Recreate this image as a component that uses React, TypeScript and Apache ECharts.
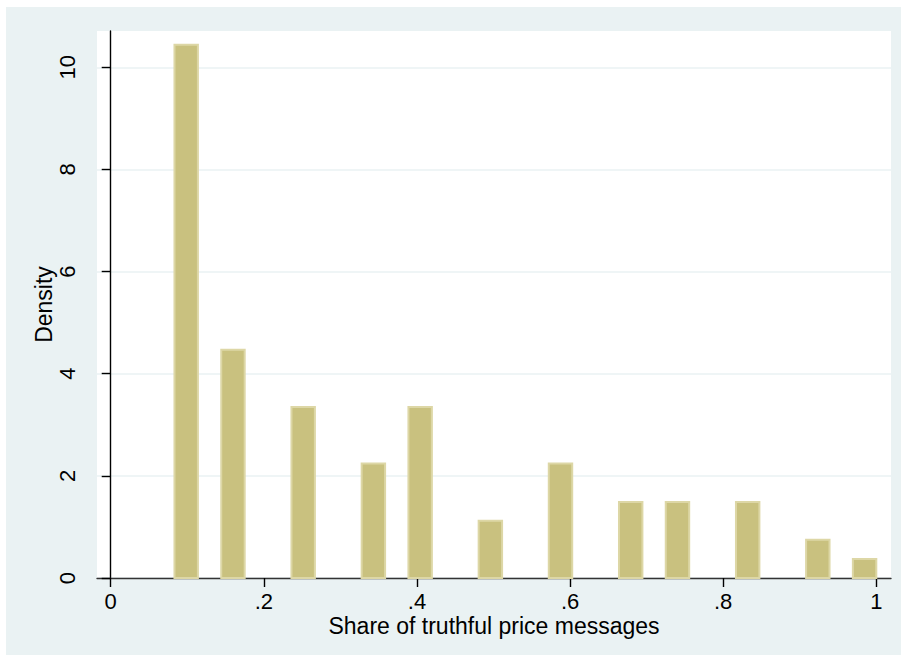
import React, { useEffect, useRef } from "react";
import * as echarts from "echarts";

// Histogram bins (left edge of each non-empty bin)
const binLeft = [0.0833, 0.1444, 0.2361, 0.3278, 0.3889, 0.4806, 0.5722, 0.6639, 0.725, 0.8167, 0.9083, 0.9694];
const binWidth = 0.0306;
const density = [10.44, 4.47, 3.35, 2.24, 3.35, 1.12, 2.24, 1.49, 1.49, 1.49, 0.75, 0.37];

const xTicks = [0, 0.2, 0.4, 0.6, 0.8, 1];
const yTicks = [0, 2, 4, 6, 8, 10];

const xTitle = "Share of truthful price messages";
const yTitle = "Density";

const FONT = "'Liberation Sans', Arial, Helvetica, sans-serif";

export default function App() {
  const ref = useRef<HTMLDivElement>(null);

  useEffect(() => {
    if (!ref.current) return;
    const chart = echarts.init(ref.current, null, { renderer: "svg" });
    const data = binLeft.map((b, i) => [b, binWidth, density[i]]);
    chart.setOption({
      animation: false,
      backgroundColor: "#ffffff",
      textStyle: { fontFamily: FONT },
      graphic: [
        {
          type: "rect",
          z: -10,
          silent: true,
          shape: { x: 6, y: 7, width: 895, height: 648 },
          style: { fill: "#EAF2F3" },
        },
        {
          type: "rect",
          z: -9,
          silent: true,
          shape: { x: 97, y: 31, width: 794, height: 547 },
          style: { fill: "#ffffff" },
        },
      ],
      grid: { left: 97, right: 10, top: 31, bottom: 83, containLabel: false },
      xAxis: {
        type: "value",
        min: -0.0179,
        max: 1.0192,
        name: xTitle,
        nameLocation: "middle",
        nameGap: 36,
        nameMoveOverlap: false,
        nameTextStyle: { fontSize: 23, color: "#000", fontFamily: FONT },
        axisLine: { show: true, onZero: false, lineStyle: { color: "#333", width: 1.4 } },
        axisTick: {
          show: true,
          length: 9,
          customValues: xTicks,
          lineStyle: { color: "#000", width: 1.4 },
        },
        axisLabel: {
          customValues: xTicks,
          fontSize: 22,
          color: "#000",
          fontFamily: FONT,
          margin: 12,
          formatter: (v: number) => (v === 0 ? "0" : v === 1 ? "1" : v.toFixed(1).slice(1)),
        },
        splitLine: { show: false },
      },
      yAxis: {
        type: "value",
        min: 0,
        max: 10.71,
        interval: 2,
        name: yTitle,
        nameLocation: "middle",
        nameGap: 42,
        nameMoveOverlap: false,
        nameRotate: 90,
        nameTextStyle: { fontSize: 23, color: "#000", fontFamily: FONT },
        axisLine: { show: true, lineStyle: { color: "#000", width: 1.4 } },
        axisTick: {
          show: true,
          length: 9,
          customValues: yTicks,
          lineStyle: { color: "#000", width: 1.4 },
        },
        axisLabel: {
          customValues: yTicks,
          rotate: 90,
          fontSize: 22,
          color: "#000",
          fontFamily: FONT,
          margin: 19,
          formatter: (v: number) => String(v),
        },
        splitLine: { show: true, lineStyle: { color: "#EAF2F3", width: 1.5 } },
      },
      series: [
        {
          type: "custom",
          data,
          encode: { x: 0, y: 2 },
          renderItem: (params: any, api: any) => {
            const x0 = api.value(0);
            const w = api.value(1);
            const d = api.value(2);
            const p0 = api.coord([x0, 0]);
            const p1 = api.coord([x0 + w, d]);
            return {
              type: "rect",
              shape: { x: p0[0], y: p1[1], width: p1[0] - p0[0], height: p0[1] - p1[1] },
              style: { fill: "#C9C17F", stroke: "#DDD7A6", lineWidth: 2 },
            };
          },
        },
      ],
    });
    return () => chart.dispose();
  }, []);

  return (
    <div
      ref={ref}
      style={{ position: "absolute", left: 0, top: 0, width: 901, height: 661 }}
    />
  );
}
